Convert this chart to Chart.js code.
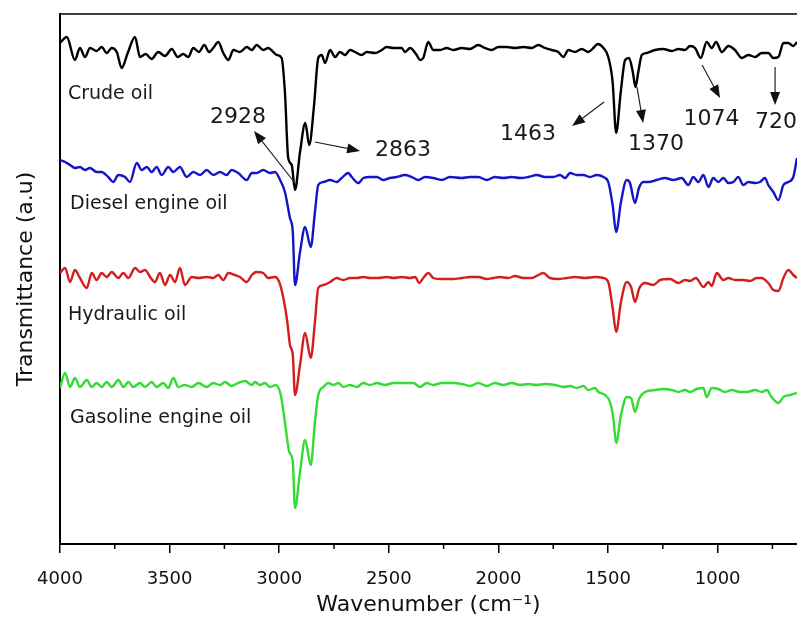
<!DOCTYPE html>
<html>
<head>
<meta charset="utf-8">
<script src="https://cdn.jsdelivr.net/npm/chart.js@4"></script>
<style>
  html, body { margin: 0; padding: 0; background: #fff; }
  #wrap { width: 797px; height: 619px; }
</style>
</head>
<body>
<div id="wrap"><canvas id="ftirChart"></canvas></div>
<script>
// FTIR spectra, transmittance in arbitrary units (curves are offset)
const crudeWn = [4000,3969,3932,3909,3886,3863,3833,3810,3787,3764,3741,3719,3691,3658,3635,3609,3582,3552,3521,3490,3463,3438,3415,3392,3366,3342,3320,3301,3278,3255,3232,3209,3179,3148,3125,3103,3073,3050,3027,3011,2989,2974,2959,2943,2928,2905,2881,2863,2841,2822,2806,2791,2768,2745,2723,2700,2677,2654,2624,2601,2563,2532,2510,2479,2441,2426,2403,2373,2358,2343,2320,2297,2266,2236,2206,2167,2130,2092,2061,2031,2000,1962,1924,1886,1848,1818,1787,1757,1727,1704,1681,1651,1620,1590,1567,1547,1521,1499,1479,1463,1442,1422,1404,1387,1375,1362,1346,1323,1286,1248,1209,1179,1149,1126,1103,1077,1050,1027,1007,981,951,921,890,860,829,799,769,746,723,700,678,655,638];
const crudeT = [501,507,484,496,487,496,493,497,491,496,492,476,491,507,487,490,485,492,488,495,487,490,487,496,492,499,492,496,502,491,484,494,492,497,494,499,494,496,492,489,486,452,386,379,354,392,421,399,439,486,489,481,494,487,492,489,494,492,489,492,491,494,497,496,496,492,496,489,484,486,502,494,494,496,494,496,495,499,496,494,497,497,496,497,496,499,496,494,492,487,494,492,495,492,496,500,496,487,462,411,452,484,486,472,457,472,489,491,494,495,493,495,494,498,496,486,502,496,502,492,498,494,486,489,487,491,491,486,487,501,501,498,502];

const dieselWn = [4000,3977,3954,3932,3909,3886,3863,3833,3810,3780,3757,3734,3703,3681,3650,3627,3604,3582,3559,3536,3506,3483,3453,3422,3392,3361,3331,3301,3270,3240,3217,3187,3148,3125,3103,3073,3042,3019,2996,2974,2951,2938,2928,2905,2882,2856,2837,2822,2799,2768,2738,2715,2685,2669,2639,2616,2586,2555,2525,2495,2464,2426,2396,2365,2335,2297,2259,2221,2167,2130,2092,2053,2016,1978,1939,1901,1864,1825,1787,1750,1719,1696,1673,1643,1613,1582,1552,1521,1499,1479,1463,1441,1415,1400,1377,1359,1339,1316,1278,1240,1202,1164,1134,1111,1088,1065,1042,1020,997,974,951,928,906,883,860,829,807,784,769,746,723,700,678,655,638];
const dieselT = [384,382,379,376,377,374,376,372,372,367,362,369,367,362,381,374,377,372,377,369,377,372,377,367,372,369,374,369,372,369,374,371,364,371,371,374,371,372,364,352,326,312,259,292,317,297,332,359,362,364,362,366,371,367,361,366,367,367,364,366,367,369,367,364,367,366,364,367,366,367,367,364,367,366,367,366,367,369,367,367,369,366,371,369,369,367,369,367,362,339,312,342,364,361,341,356,362,362,364,366,364,366,359,367,362,369,357,366,362,366,361,362,367,359,362,361,362,366,359,352,344,359,362,367,386];

const hydraulicWn = [4000,3977,3954,3932,3909,3878,3855,3833,3810,3787,3764,3734,3711,3688,3658,3635,3612,3589,3567,3544,3521,3498,3475,3453,3430,3399,3369,3331,3301,3278,3255,3232,3202,3179,3148,3125,3103,3073,3050,3019,3000,2981,2963,2951,2938,2928,2905,2882,2856,2837,2822,2799,2768,2738,2708,2677,2646,2616,2586,2548,2510,2479,2441,2403,2380,2361,2343,2320,2297,2266,2206,2167,2130,2092,2053,2023,1993,1955,1924,1886,1848,1818,1795,1765,1727,1688,1651,1605,1559,1521,1499,1479,1463,1441,1415,1395,1377,1357,1331,1293,1263,1217,1179,1149,1126,1099,1065,1042,1027,1004,974,951,921,883,852,822,799,769,746,723,700,678,655,638];
const hydraulicT = [271,276,262,274,266,256,271,264,271,267,272,266,271,266,276,272,274,267,262,271,259,269,262,276,259,267,266,267,266,269,264,271,269,267,262,269,272,271,266,267,262,246,222,199,189,149,179,211,186,222,256,259,262,266,264,266,266,267,266,266,267,266,267,266,267,261,266,271,266,265,265,266,267,267,265,266,267,266,268,266,266,269,271,266,265,266,267,266,267,266,262,236,212,242,262,257,242,256,261,259,264,265,261,264,263,266,257,262,258,271,264,266,264,264,263,266,266,261,254,253,266,274,269,266];

const gasolineWn = [4000,3977,3954,3932,3909,3878,3855,3833,3810,3787,3764,3734,3711,3688,3666,3635,3612,3582,3559,3529,3506,3483,3460,3430,3399,3369,3331,3301,3270,3247,3217,3187,3156,3125,3110,3088,3065,3042,3015,2993,2974,2954,2938,2928,2905,2882,2856,2837,2822,2799,2776,2753,2730,2708,2677,2646,2616,2586,2555,2517,2479,2434,2388,2358,2327,2297,2259,2206,2167,2130,2092,2053,2016,1978,1939,1901,1864,1825,1787,1742,1704,1673,1643,1613,1590,1559,1544,1514,1491,1476,1463,1441,1415,1395,1377,1357,1331,1286,1248,1209,1179,1149,1126,1096,1065,1050,1027,997,966,936,898,867,829,799,776,754,723,700,670,638];
const gasolineT = [156,171,157,166,157,164,157,161,157,162,157,164,157,162,157,161,157,162,157,161,156,166,157,159,157,161,157,161,159,162,158,161,163,159,162,159,161,157,159,149,122,92,82,36,72,104,79,122,149,157,161,159,161,157,159,157,161,159,161,159,161,161,161,157,161,159,161,161,160,158,161,158,161,159,161,159,160,159,160,159,157,158,156,158,154,156,152,149,142,126,101,129,147,146,132,146,152,154,155,154,152,154,152,155,156,147,156,155,152,154,152,152,154,152,154,147,141,147,149,151];

const seriesNames = ['Crude oil', 'Diesel engine oil', 'Hydraulic oil', 'Gasoline engine oil'];
const seriesColors = ['#000000', 'rgb(20,20,200)', 'rgb(212,30,30)', 'rgb(50,220,50)'];
// label anchors [wavenumber, a.u.]
const nameAnchors = [[3964, 450], [3954, 340], [3964, 229], [3954, 126]];

const xTicks = [1000, 1500, 2000, 2500, 3000, 3500, 4000];
const xMinorTicks = [750, 1250, 1750, 2250, 2750, 3250, 3750];

// peak annotations: text, text centre, arrow tail, arrow head (wavenumber, a.u.)
const peakTexts = ['2928', '2863', '1463', '1370', '1074', '720'];
const peakTextPos = [[3188, 427], [2435, 394], [1865, 410], [1281, 400], [1028, 425], [734, 422]];
const arrowTails = [[2928, 361], [2837, 402], [1518, 442], [1368, 457], [1071, 479], [738, 477]];
const arrowHeads = [[3115, 413], [2631, 393], [1664, 418], [1340, 421], [989, 446], [738, 439]];

const FONT = '"DejaVu Sans", sans-serif';

const spectra = [[crudeWn, crudeT], [dieselWn, dieselT], [hydraulicWn, hydraulicT], [gasolineWn, gasolineT]];

const annotate = {
  id: 'annotate',
  afterDatasetsDraw(chart) {
    const ctx = chart.ctx;
    const x = chart.scales.x, y = chart.scales.y;
    const area = chart.chartArea;
    ctx.save();

    // frame top line
    ctx.strokeStyle = '#000';
    ctx.lineWidth = 1.5;
    ctx.beginPath();
    ctx.moveTo(area.left, area.top);
    ctx.lineTo(area.right, area.top);
    ctx.stroke();

    // minor ticks
    xMinorTicks.forEach(v => {
      const px = x.getPixelForValue(v);
      ctx.beginPath();
      ctx.moveTo(px, area.bottom);
      ctx.lineTo(px, area.bottom + 5);
      ctx.stroke();
    });

    // series names
    ctx.fillStyle = '#1a1a1a';
    ctx.font = '19px ' + FONT;
    ctx.textAlign = 'left';
    ctx.textBaseline = 'middle';
    seriesNames.forEach((name, i) => {
      ctx.fillText(name, x.getPixelForValue(nameAnchors[i][0]), y.getPixelForValue(nameAnchors[i][1]));
    });

    // peak labels
    ctx.font = '22px ' + FONT;
    ctx.textAlign = 'center';
    peakTexts.forEach((t, i) => {
      ctx.fillText(t, x.getPixelForValue(peakTextPos[i][0]), y.getPixelForValue(peakTextPos[i][1]));
    });

    // arrows
    ctx.strokeStyle = '#222';
    ctx.fillStyle = '#111';
    ctx.lineWidth = 1.2;
    arrowTails.forEach((tail, i) => {
      const x0 = x.getPixelForValue(tail[0]), y0 = y.getPixelForValue(tail[1]);
      const x1 = x.getPixelForValue(arrowHeads[i][0]), y1 = y.getPixelForValue(arrowHeads[i][1]);
      const ang = Math.atan2(y1 - y0, x1 - x0);
      ctx.beginPath();
      ctx.moveTo(x0, y0);
      ctx.lineTo(x1 - 8 * Math.cos(ang), y1 - 8 * Math.sin(ang));
      ctx.stroke();
      ctx.beginPath();
      ctx.moveTo(x1, y1);
      ctx.lineTo(x1 - 13 * Math.cos(ang) + 5 * Math.sin(ang), y1 - 13 * Math.sin(ang) - 5 * Math.cos(ang));
      ctx.lineTo(x1 - 13 * Math.cos(ang) - 5 * Math.sin(ang), y1 - 13 * Math.sin(ang) + 5 * Math.cos(ang));
      ctx.closePath();
      ctx.fill();
    });
    ctx.restore();
  }
};

const ctx = document.getElementById('ftirChart').getContext('2d');
const chart = new Chart(ctx, {
  type: 'line',
  data: {
    datasets: spectra.map((s, i) => ({
      label: seriesNames[i],
      data: s[0].map((wn, j) => ({ x: wn, y: s[1][j] })),
      borderColor: seriesColors[i],
      borderWidth: 2.4,
      pointRadius: 0,
      fill: false,
      cubicInterpolationMode: 'monotone'
    }))
  },
  options: {
    responsive: true,
    maintainAspectRatio: false,
    animation: false,
    layout: { padding: { top: 14, right: 0, bottom: 0, left: 0 } },
    plugins: { legend: { display: false }, tooltip: { enabled: false } },
    scales: {
      x: {
        type: 'linear',
        reverse: true,
        min: 638,
        max: 4000,
        afterBuildTicks: s => { s.ticks = xTicks.map(v => ({ value: v })); },
        afterFit: s => { s.height = 75; },
        grid: { display: true, drawOnChartArea: false, tickLength: 9, color: '#000', lineWidth: 1.5 },
        border: { display: true, color: '#000', width: 2 },
        ticks: {
          color: '#111',
          font: { family: FONT, size: 18 },
          padding: 16,
          maxRotation: 0,
          callback: v => String(v)
        },
        title: {
          display: true,
          text: 'Wavenumber (cm\u207B\u00B9)',
          color: '#111',
          font: { family: FONT, size: 22 },
          padding: { top: 0, bottom: 1 }
        }
      },
      y: {
        min: 0,
        max: 530,
        afterFit: s => { s.width = 60; },
        grid: { display: false },
        border: { display: true, color: '#000', width: 2 },
        ticks: { display: false },
        title: {
          display: true,
          text: 'Transmittance (a.u)',
          color: '#111',
          font: { family: FONT, size: 22 },
          padding: { top: 13, bottom: 0 }
        }
      }
    }
  },
  plugins: [annotate]
});
</script>
</body>
</html>
